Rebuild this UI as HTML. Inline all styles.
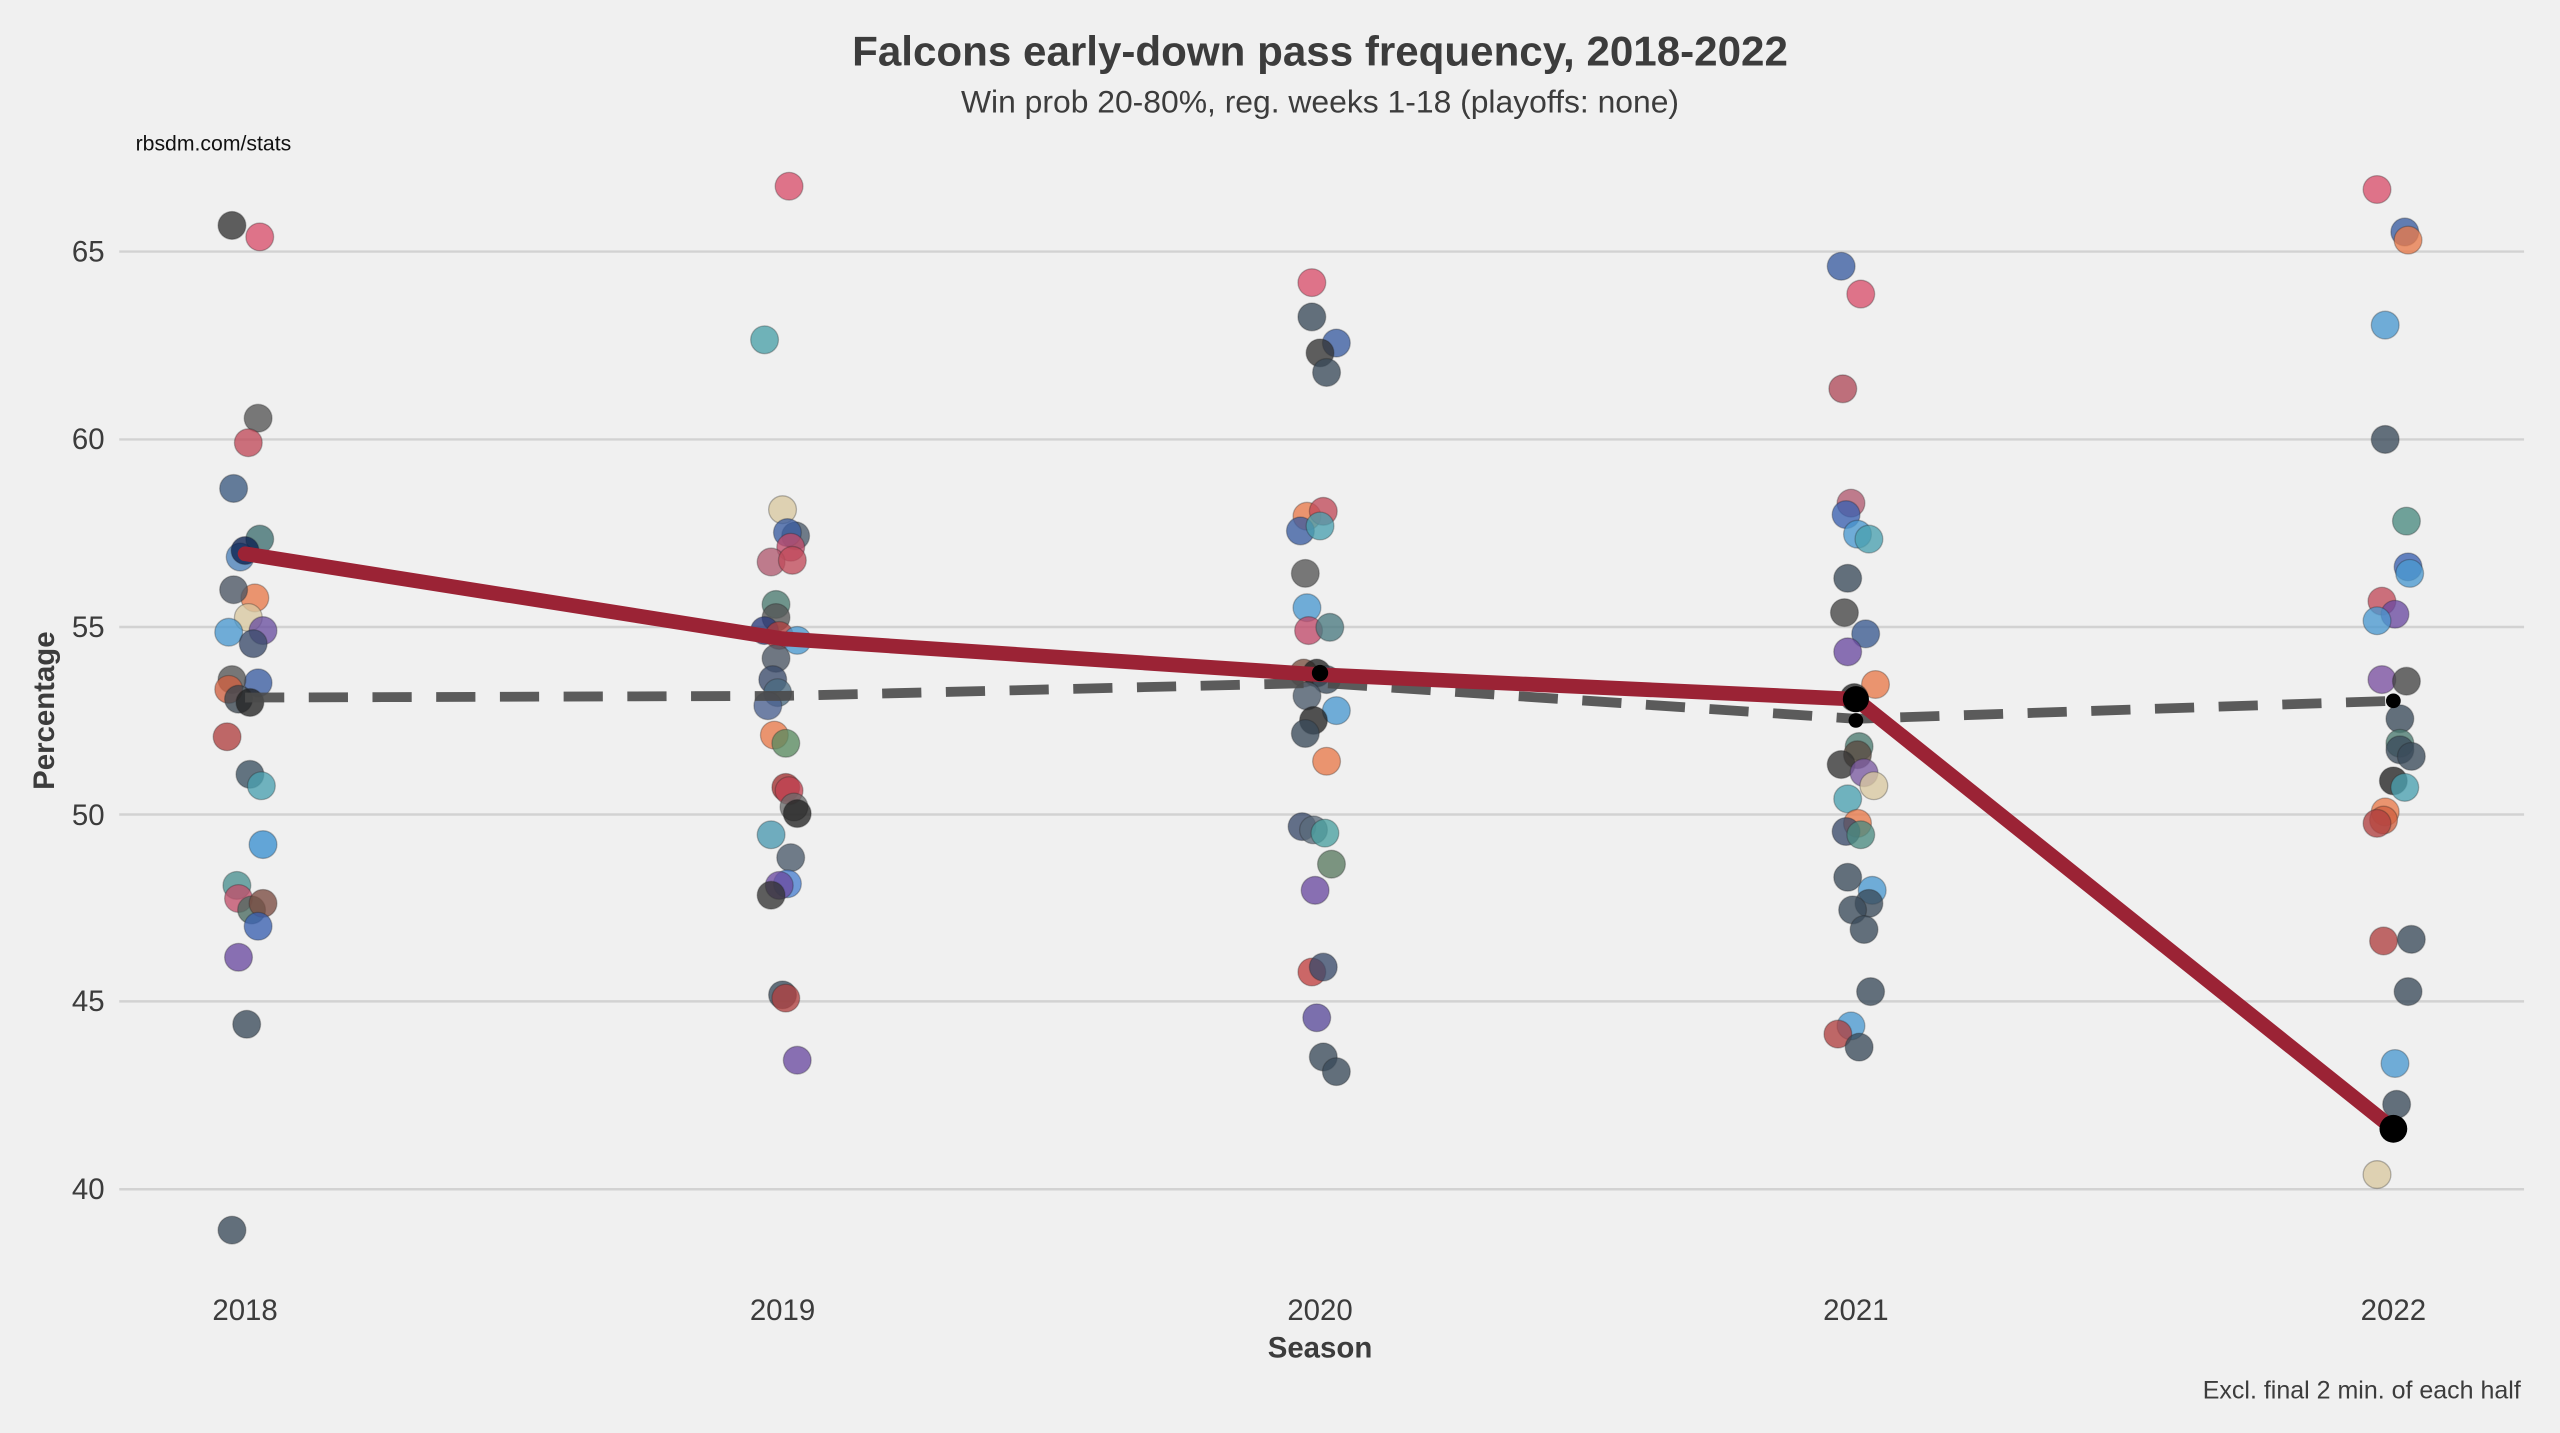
<!DOCTYPE html>
<html><head><meta charset="utf-8"><style>
html,body{margin:0;padding:0;background:#f0f0f0;}
svg{display:block;}
text{font-family:"Liberation Sans",sans-serif;fill:#3c3c3c;}
</style></head><body>
<svg width="2560" height="1433" viewBox="0 0 1567 877.2" preserveAspectRatio="none" xmlns="http://www.w3.org/2000/svg">
<rect width="1567" height="878" fill="#f0f0f0"/>
<g stroke="#d2d2d2" stroke-width="1.5">
<line x1="73" x2="1545" y1="154" y2="154"/><line x1="73" x2="1545" y1="269" y2="269"/>
<line x1="73" x2="1545" y1="383.8" y2="383.8"/><line x1="73" x2="1545" y1="498.6" y2="498.6"/>
<line x1="73" x2="1545" y1="613" y2="613"/><line x1="73" x2="1545" y1="728" y2="728"/>
</g>
<g font-size="18" text-anchor="end">
<text x="64" y="160">65</text><text x="64" y="275">60</text><text x="64" y="390">55</text>
<text x="64" y="505">50</text><text x="64" y="619">45</text><text x="64" y="734">40</text>
</g>
<g font-size="18" text-anchor="middle">
<text x="150" y="808">2018</text><text x="479" y="808">2019</text><text x="808" y="808">2020</text>
<text x="1136" y="808">2021</text><text x="1465" y="808">2022</text>
</g>
<text x="808" y="40" font-size="25.8" font-weight="bold" text-anchor="middle">Falcons early-down pass frequency, 2018-2022</text>
<text x="808" y="69" font-size="19.5" text-anchor="middle">Win prob 20-80%, reg. weeks 1-18 (playoffs: none)</text>
<text x="83" y="92" font-size="13" style="fill:#111">rbsdm.com/stats</text>
<text x="808" y="831" font-size="18" font-weight="bold" text-anchor="middle">Season</text>
<text transform="translate(33,435) rotate(-90)" font-size="18" font-weight="bold" text-anchor="middle">Percentage</text>
<text x="1543" y="856" font-size="15.3" text-anchor="end">Excl. final 2 min. of each half</text>
<g id="dots" fill-opacity="0.78" stroke="#222" stroke-opacity="0.3" stroke-width="0.8">
<circle cx="142" cy="138" r="8.5" fill="#333"/><circle cx="159" cy="145" r="8.5" fill="#d9506b"/>
<circle cx="158" cy="256" r="8.5" fill="#555"/><circle cx="152" cy="271" r="8.5" fill="#c04a5a"/>
<circle cx="143" cy="299" r="8.5" fill="#3b5a80"/><circle cx="159" cy="330" r="8.5" fill="#3e6e70"/>
<circle cx="147" cy="341" r="8.5" fill="#4a80b8"/><circle cx="150" cy="337" r="8.5" fill="#0a2050"/>
<circle cx="156" cy="366" r="8.5" fill="#e87a4a"/><circle cx="143" cy="361" r="8.5" fill="#4a5563"/>
<circle cx="152" cy="378" r="8.5" fill="#d8c8a0"/><circle cx="161" cy="386" r="8.5" fill="#6a50a0"/>
<circle cx="140" cy="387" r="8.5" fill="#4a98d0"/><circle cx="155" cy="394" r="8.5" fill="#3a4a6a"/>
<circle cx="158" cy="418" r="8.5" fill="#3a5ca0"/><circle cx="142" cy="416" r="8.5" fill="#555"/>
<circle cx="140" cy="422" r="8.5" fill="#d06040"/><circle cx="146" cy="428" r="8.5" fill="#3a4550"/>
<circle cx="153" cy="430" r="8.5" fill="#222"/><circle cx="139" cy="451" r="8.5" fill="#b04040"/>
<circle cx="153" cy="474" r="8.5" fill="#3a5060"/><circle cx="160" cy="481" r="8.5" fill="#4aa0b0"/>
<circle cx="161" cy="517" r="8.5" fill="#3a90d0"/><circle cx="145" cy="542" r="8.5" fill="#4a9090"/>
<circle cx="146" cy="550" r="8.5" fill="#c0506a"/><circle cx="154" cy="557" r="8.5" fill="#4a6a60"/>
<circle cx="161" cy="553" r="8.5" fill="#7a4a40"/><circle cx="158" cy="567" r="8.5" fill="#3a60b0"/>
<circle cx="146" cy="586" r="8.5" fill="#6a4aa0"/><circle cx="151" cy="627" r="8.5" fill="#3a4a5a"/>
<circle cx="142" cy="753" r="8.5" fill="#3a4a5a"/>
<circle cx="483" cy="114" r="8.5" fill="#d9506b"/><circle cx="468" cy="208" r="8.5" fill="#4aa0a8"/>
<circle cx="479" cy="312" r="8.5" fill="#d8c8a0"/><circle cx="487" cy="328" r="8.5" fill="#4a5a6a"/>
<circle cx="482" cy="326" r="8.5" fill="#3a5ca0"/><circle cx="484" cy="335" r="8.5" fill="#c04a6a"/>
<circle cx="472" cy="344" r="8.5" fill="#b05a70"/><circle cx="485" cy="343" r="8.5" fill="#c04a5a"/>
<circle cx="475" cy="370" r="8.5" fill="#4a7a70"/><circle cx="475" cy="378" r="8.5" fill="#555"/>
<circle cx="468" cy="386" r="8.5" fill="#2a3a7a"/><circle cx="477" cy="389" r="8.5" fill="#b04040"/>
<circle cx="488" cy="392" r="8.5" fill="#4a98d0"/><circle cx="475" cy="403" r="8.5" fill="#4a5563"/>
<circle cx="473" cy="416" r="8.5" fill="#3a4a6a"/><circle cx="476" cy="424" r="8.5" fill="#4a6a80"/>
<circle cx="470" cy="432" r="8.5" fill="#4a6090"/><circle cx="474" cy="450" r="8.5" fill="#e87a4a"/>
<circle cx="481" cy="455" r="8.5" fill="#5a8a60"/><circle cx="481" cy="482" r="8.5" fill="#a03030"/>
<circle cx="483" cy="484" r="8.5" fill="#c04050"/><circle cx="486" cy="494" r="8.5" fill="#6a6a6a"/>
<circle cx="488" cy="498" r="8.5" fill="#222"/><circle cx="472" cy="511" r="8.5" fill="#4a98b0"/>
<circle cx="484" cy="525" r="8.5" fill="#4a5a6a"/><circle cx="482" cy="541" r="8.5" fill="#4a80d0"/>
<circle cx="477" cy="542" r="8.5" fill="#6a4aa0"/><circle cx="472" cy="548" r="8.5" fill="#333"/>
<circle cx="479" cy="609" r="8.5" fill="#3a4a5a"/><circle cx="481" cy="611" r="8.5" fill="#b04040"/>
<circle cx="488" cy="649" r="8.5" fill="#6a4aa0"/>
<circle cx="803" cy="173" r="8.5" fill="#d9506b"/><circle cx="803" cy="194" r="8.5" fill="#3a4a5a"/>
<circle cx="818" cy="210" r="8.5" fill="#3a5ca0"/><circle cx="808" cy="216" r="8.5" fill="#333"/>
<circle cx="812" cy="228" r="8.5" fill="#3a4a5a"/><circle cx="800" cy="316" r="8.5" fill="#e87a4a"/>
<circle cx="810" cy="313" r="8.5" fill="#c04a5a"/><circle cx="796" cy="325" r="8.5" fill="#3a5ca0"/>
<circle cx="808" cy="322" r="8.5" fill="#4aa0b0"/><circle cx="799" cy="351" r="8.5" fill="#555"/>
<circle cx="800" cy="372" r="8.5" fill="#4a98d0"/><circle cx="801" cy="386" r="8.5" fill="#c04a6a"/>
<circle cx="814" cy="384" r="8.5" fill="#4a7a80"/><circle cx="798" cy="412" r="8.5" fill="#7a5040"/>
<circle cx="806" cy="412" r="8.5" fill="#222"/><circle cx="812" cy="416" r="8.5" fill="#3a4a5a"/>
<circle cx="800" cy="426" r="8.5" fill="#4a5a6a"/><circle cx="818" cy="435" r="8.5" fill="#4a98d0"/>
<circle cx="804" cy="441" r="8.5" fill="#222"/><circle cx="799" cy="449" r="8.5" fill="#3a4a5a"/>
<circle cx="812" cy="466" r="8.5" fill="#e87a4a"/><circle cx="797" cy="506" r="8.5" fill="#3a4a6a"/>
<circle cx="804" cy="508" r="8.5" fill="#5a6a7a"/><circle cx="811" cy="510" r="8.5" fill="#4aa0a0"/>
<circle cx="815" cy="529" r="8.5" fill="#5a7a60"/><circle cx="805" cy="545" r="8.5" fill="#6a4aa0"/>
<circle cx="803" cy="595" r="8.5" fill="#c04040"/><circle cx="810" cy="592" r="8.5" fill="#3a4a6a"/>
<circle cx="806" cy="623" r="8.5" fill="#5a4a9a"/><circle cx="810" cy="647" r="8.5" fill="#3a4a5a"/>
<circle cx="818" cy="656" r="8.5" fill="#3a4a5a"/>
<circle cx="1127" cy="163" r="8.5" fill="#3a5ca0"/><circle cx="1139" cy="180" r="8.5" fill="#d9506b"/>
<circle cx="1128" cy="238" r="8.5" fill="#b04a5a"/><circle cx="1133" cy="308" r="8.5" fill="#b05a70"/>
<circle cx="1130" cy="315" r="8.5" fill="#3a60b0"/><circle cx="1137" cy="327" r="8.5" fill="#4a98d0"/>
<circle cx="1144" cy="330" r="8.5" fill="#4aa0b0"/><circle cx="1131" cy="354" r="8.5" fill="#3a4a5a"/>
<circle cx="1129" cy="375" r="8.5" fill="#444"/><circle cx="1142" cy="388" r="8.5" fill="#3a5a90"/>
<circle cx="1131" cy="399" r="8.5" fill="#6a4aa0"/><circle cx="1148" cy="419" r="8.5" fill="#e87a4a"/>
<circle cx="1135" cy="427" r="8.5" fill="#222"/><circle cx="1138" cy="457" r="8.5" fill="#4a7a70"/>
<circle cx="1137" cy="462" r="8.5" fill="#5a4a40"/><circle cx="1127" cy="468" r="8.5" fill="#333"/>
<circle cx="1141" cy="473" r="8.5" fill="#7a5aa0"/><circle cx="1147" cy="481" r="8.5" fill="#d8c8a0"/>
<circle cx="1131" cy="489" r="8.5" fill="#4aa0b0"/><circle cx="1137" cy="504" r="8.5" fill="#e87a4a"/>
<circle cx="1130" cy="509" r="8.5" fill="#3a4a6a"/><circle cx="1139" cy="511" r="8.5" fill="#4a8a80"/>
<circle cx="1146" cy="545" r="8.5" fill="#4a98d0"/><circle cx="1131" cy="537" r="8.5" fill="#3a4a5a"/>
<circle cx="1144" cy="553" r="8.5" fill="#3a4a5a"/><circle cx="1134" cy="557" r="8.5" fill="#3a4a5a"/>
<circle cx="1141" cy="569" r="8.5" fill="#3a4a5a"/><circle cx="1145" cy="607" r="8.5" fill="#3a4a5a"/>
<circle cx="1133" cy="628" r="8.5" fill="#4a98d0"/><circle cx="1125" cy="633" r="8.5" fill="#b04040"/>
<circle cx="1138" cy="641" r="8.5" fill="#3a4a5a"/>
<circle cx="1455" cy="116" r="8.5" fill="#d9506b"/><circle cx="1472" cy="142" r="8.5" fill="#3a5ca0"/>
<circle cx="1474" cy="147" r="8.5" fill="#e87a4a"/><circle cx="1460" cy="199" r="8.5" fill="#4a98d0"/>
<circle cx="1460" cy="269" r="8.5" fill="#3a4a5a"/><circle cx="1473" cy="319" r="8.5" fill="#4a8a80"/>
<circle cx="1474" cy="347" r="8.5" fill="#3a60b0"/><circle cx="1475" cy="351" r="8.5" fill="#4a98d0"/>
<circle cx="1458" cy="368" r="8.5" fill="#c04a5a"/><circle cx="1466" cy="376" r="8.5" fill="#6a4aa0"/>
<circle cx="1455" cy="380" r="8.5" fill="#4a98d0"/><circle cx="1458" cy="416" r="8.5" fill="#7a50a0"/>
<circle cx="1473" cy="417" r="8.5" fill="#444"/><circle cx="1469" cy="440" r="8.5" fill="#3a4a5a"/>
<circle cx="1469" cy="455" r="8.5" fill="#4a7a70"/><circle cx="1469" cy="459" r="8.5" fill="#3a4a5a"/>
<circle cx="1476" cy="463" r="8.5" fill="#3a4a5a"/><circle cx="1465" cy="478" r="8.5" fill="#222"/>
<circle cx="1472" cy="482" r="8.5" fill="#4aa0b0"/><circle cx="1460" cy="497" r="8.5" fill="#e87a4a"/>
<circle cx="1459" cy="502" r="8.5" fill="#d06040"/><circle cx="1455" cy="504" r="8.5" fill="#b04040"/>
<circle cx="1459" cy="576" r="8.5" fill="#b04040"/><circle cx="1476" cy="575" r="8.5" fill="#3a4a5a"/>
<circle cx="1474" cy="607" r="8.5" fill="#3a4a5a"/><circle cx="1466" cy="651" r="8.5" fill="#4a98d0"/>
<circle cx="1467" cy="676" r="8.5" fill="#3a4a5a"/><circle cx="1455" cy="719" r="8.5" fill="#d8c8a0"/>
</g>
<polyline points="150,427 479,426 808,418 1136,440 1465,429" fill="none" stroke="#4a4a4a" stroke-opacity="0.9" stroke-width="6" stroke-dasharray="24 15"/>
<polyline points="150,339 479,391 808,413 1136,428 1465,691" fill="none" stroke="#9b2335" stroke-width="9" stroke-linejoin="round" stroke-linecap="round"/>
<g fill="#000">
<circle cx="808" cy="412" r="5"/>
<circle cx="1136" cy="428" r="8"/><circle cx="1136" cy="441" r="4.5"/><circle cx="1465" cy="429" r="4.5"/><circle cx="1465" cy="691" r="8.5"/>
</g>
</svg>
</body></html>
